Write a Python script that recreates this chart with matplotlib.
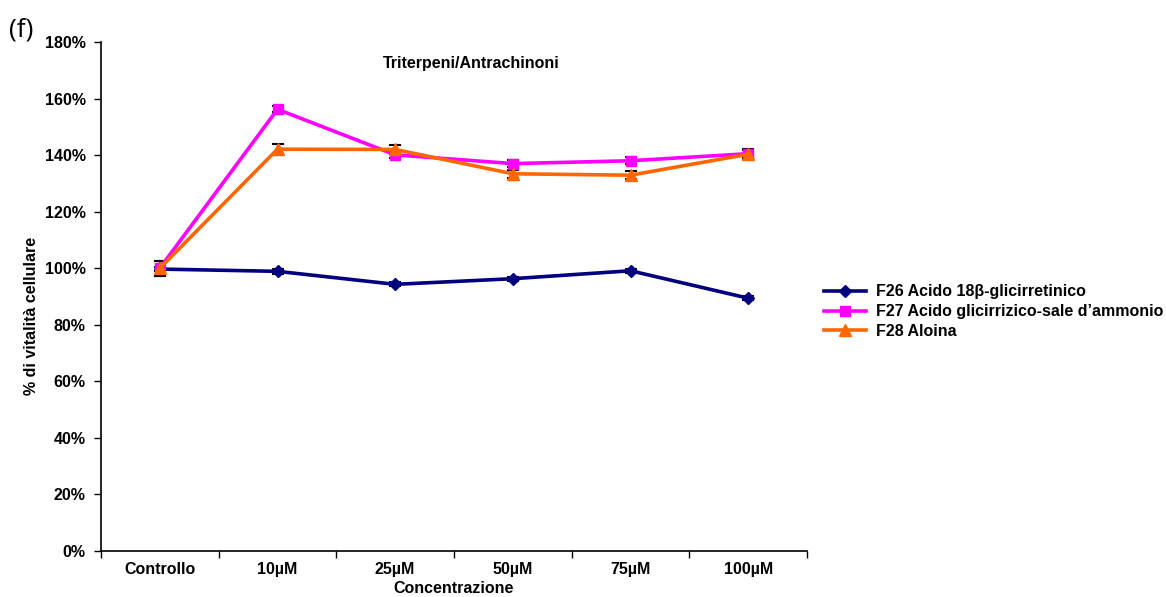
import matplotlib
matplotlib.use("Agg")
import matplotlib.pyplot as plt
import numpy as np

plt.rcParams['font.family'] = ['Liberation Sans', 'DejaVu Sans']

categories = ["Controllo", "10\u00b5M", "25\u00b5M", "50\u00b5M", "75\u00b5M", "100\u00b5M"]

f26_values = [99.7, 98.9, 94.3, 96.3, 99.1, 89.4]
f26_errors = [0.8, 0.8, 0.7, 0.7, 0.7, 0.8]

f27_values = [100.0, 156.2, 140.1, 137.0, 138.0, 140.5]
f27_errors = [2.6, 1.0, 1.2, 1.3, 1.3, 1.5]

f28_values = [100.0, 142.1, 142.0, 133.4, 132.9, 140.3]
f28_errors = [2.6, 2.0, 1.5, 1.5, 1.4, 1.6]

series_labels = [
    "F26 Acido 18\u03b2-glicirretinico",
    "F27 Acido glicirrizico-sale d\u2019ammonio",
    "F28 Aloina",
]

fig = plt.figure(figsize=(11.66, 5.97), dpi=100)
ax = fig.add_axes([101 / 1166, 46 / 597, 706 / 1166, 509 / 597])

x = np.arange(len(categories))

styles = [
    dict(color="#000080", marker="D", markersize=6),
    dict(color="#FF00FF", marker="s", markersize=7),
    dict(color="#FF6600", marker="^", markersize=8),
]
values = [f26_values, f27_values, f28_values]
errors = [f26_errors, f27_errors, f28_errors]

handles = []
for vals, errs, st, lab in zip(values, errors, styles, series_labels):
    ax.errorbar(x, vals, yerr=errs, fmt="none", ecolor="black",
                elinewidth=1.3, capsize=4.5, capthick=1.5, zorder=2)
    h, = ax.plot(x, vals, color=st["color"], lw=2.6, marker=st["marker"],
                 markersize=st["markersize"], markerfacecolor=st["color"],
                 markeredgecolor=st["color"], label=lab, zorder=3)
    handles.append(h)

ax.set_xlim(-0.5, len(categories) - 0.5)
ax.set_ylim(0, 180)
ax.set_yticks(np.arange(0, 181, 20))
ax.set_yticklabels([f"{v}%" for v in range(0, 181, 20)])

ax.set_xticks(np.arange(-0.5, len(categories), 1.0))
ax.set_xticklabels([])
ax.set_xticks(x, minor=True)
ax.set_xticklabels(categories, minor=True)
ax.tick_params(axis="x", which="major", length=5, width=1, direction="out")
ax.tick_params(axis="x", which="minor", length=0, pad=8)
ax.tick_params(axis="y", length=5, width=1, direction="out", pad=6)

for lbl in ax.get_xticklabels(minor=True) + ax.get_yticklabels():
    lbl.set_fontweight("bold")
    lbl.set_fontsize(11.5)

for side in ("top", "right"):
    ax.spines[side].set_visible(False)
for side in ("left", "bottom"):
    ax.spines[side].set_linewidth(1.2)

ax.set_xlabel("Concentrazione", fontsize=11.5, fontweight="bold", labelpad=3)
ax.set_ylabel("% di vitalit\u00e0 cellulare", fontsize=11.5, fontweight="bold")
ax.yaxis.set_label_coords(-0.088, 0.462)

ax.text(0.525, 0.957, "Triterpeni/Antrachinoni", transform=ax.transAxes,
        ha="center", va="center", fontsize=11.5, fontweight="bold")

fig.text(9 / 1166, 1 - 30 / 597, "(f)", fontsize=19, ha="left", va="center",
         family=["Open Sans", "DejaVu Sans"])

leg = fig.legend(handles=handles, loc="upper left",
                 bbox_to_anchor=(818 / 1166, 1 - 278 / 597),
                 frameon=False, prop=dict(weight="bold", size=11.5),
                 handlelength=2.6, handletextpad=0.6, labelspacing=0.3,
                 borderaxespad=0)

fig.savefig("out.png", dpi=100, facecolor="white")
